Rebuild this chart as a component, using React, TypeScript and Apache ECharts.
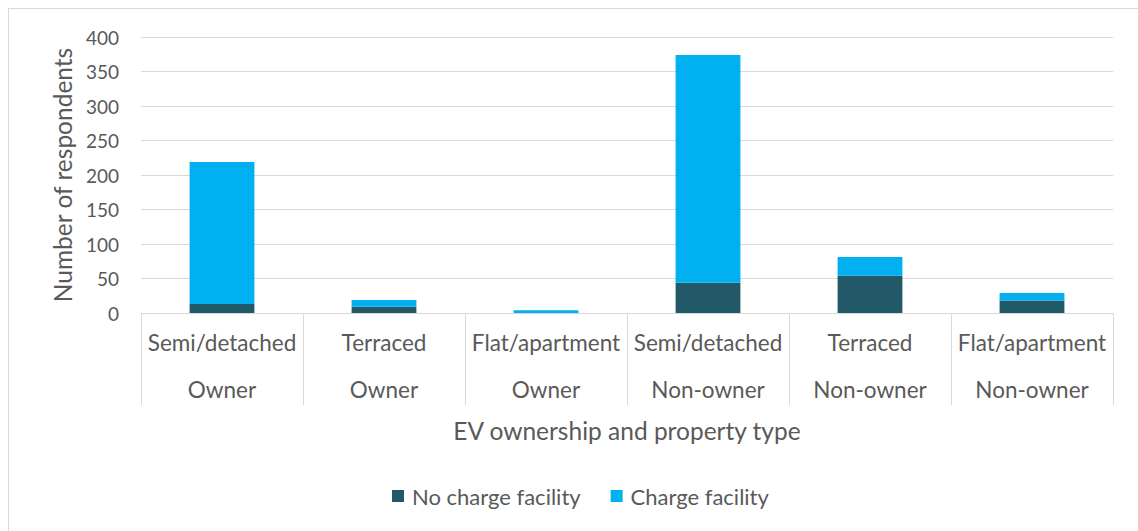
import React, { useEffect, useRef } from "react";
import * as echarts from "echarts";

const propertyTypes = ["Semi/detached", "Terraced", "Flat/apartment", "Semi/detached", "Terraced", "Flat/apartment"];
const ownership = ["Owner", "Owner", "Owner", "Non-owner", "Non-owner", "Non-owner"];
const noChargeFacility = [13, 9, 0, 44, 54, 18];
const chargeFacility = [206, 10, 4, 330, 27, 11];
const seriesNames = ["No charge facility", "Charge facility"];
const yTicks = { min: 0, max: 400, interval: 50 };

const FONT = "Lato, sans-serif";
const TEXT = "#595959";
const GRID = "#d9d9d9";

export default function App() {
  const ref = useRef<HTMLDivElement>(null);
  useEffect(() => {
    if (!ref.current) return;
    const chart = echarts.init(ref.current, null, { renderer: "svg" });
    const categories = propertyTypes.map((p, i) => p + "\n" + ownership[i]);
    chart.setOption({
      animation: false,
      textStyle: { fontFamily: FONT, color: TEXT },
      grid: { left: 141, right: 25, top: 37, bottom: 218 },
      legend: {
        bottom: 19,
        left: 387,
        itemWidth: 12,
        itemHeight: 12,
        itemGap: 30,
        icon: "rect",
        textStyle: { fontFamily: FONT, fontSize: 22, color: TEXT, padding: [0, 0, 0, 3] },
        data: seriesNames,
      },
      xAxis: {
        type: "category",
        data: categories,
        name: "EV ownership and property type",
        nameLocation: "middle",
        nameGap: 102,
        nameTextStyle: { fontFamily: FONT, fontSize: 24.5, color: TEXT },
        axisLine: { lineStyle: { color: GRID } },
        axisTick: { show: true, length: 92, interval: 0, lineStyle: { color: GRID } },
        axisLabel: {
          interval: 0,
          margin: 6,
          lineHeight: 47,
          fontFamily: FONT,
          fontSize: 22.5,
          color: TEXT,
        },
      },
      yAxis: {
        type: "value",
        min: yTicks.min,
        max: yTicks.max,
        interval: yTicks.interval,
        name: "Number of respondents",
        nameLocation: "middle",
        nameGap: 66,
        nameTextStyle: { fontFamily: FONT, fontSize: 24.5, color: TEXT },
        axisLine: { show: false },
        axisTick: { show: false },
        axisLabel: { margin: 22, fontFamily: FONT, fontSize: 19, color: TEXT },
        splitLine: { lineStyle: { color: GRID, width: 1 } },
      },
      series: [
        {
          name: seriesNames[0],
          type: "bar",
          stack: "total",
          barWidth: "40%",
          data: noChargeFacility,
          itemStyle: { color: "#215968" },
        },
        {
          name: seriesNames[1],
          type: "bar",
          stack: "total",
          barWidth: "40%",
          data: chargeFacility,
          itemStyle: { color: "#00b0f0" },
        },
      ],
    });
    return () => chart.dispose();
  }, []);
  return (
    <div style={{ position: "fixed", left: 0, top: 0, width: 1138, height: 531, overflow: "hidden", background: "#fff" }}>
      <div
        style={{
          position: "absolute",
          left: 8,
          top: 8,
          width: 1200,
          height: 600,
          borderTop: "1px solid #d9d9d9",
          borderLeft: "1px solid #d9d9d9",
        }}
      />
      <div ref={ref} style={{ position: "absolute", left: 0, top: 0, width: 1138, height: 531 }} />
    </div>
  );
}
